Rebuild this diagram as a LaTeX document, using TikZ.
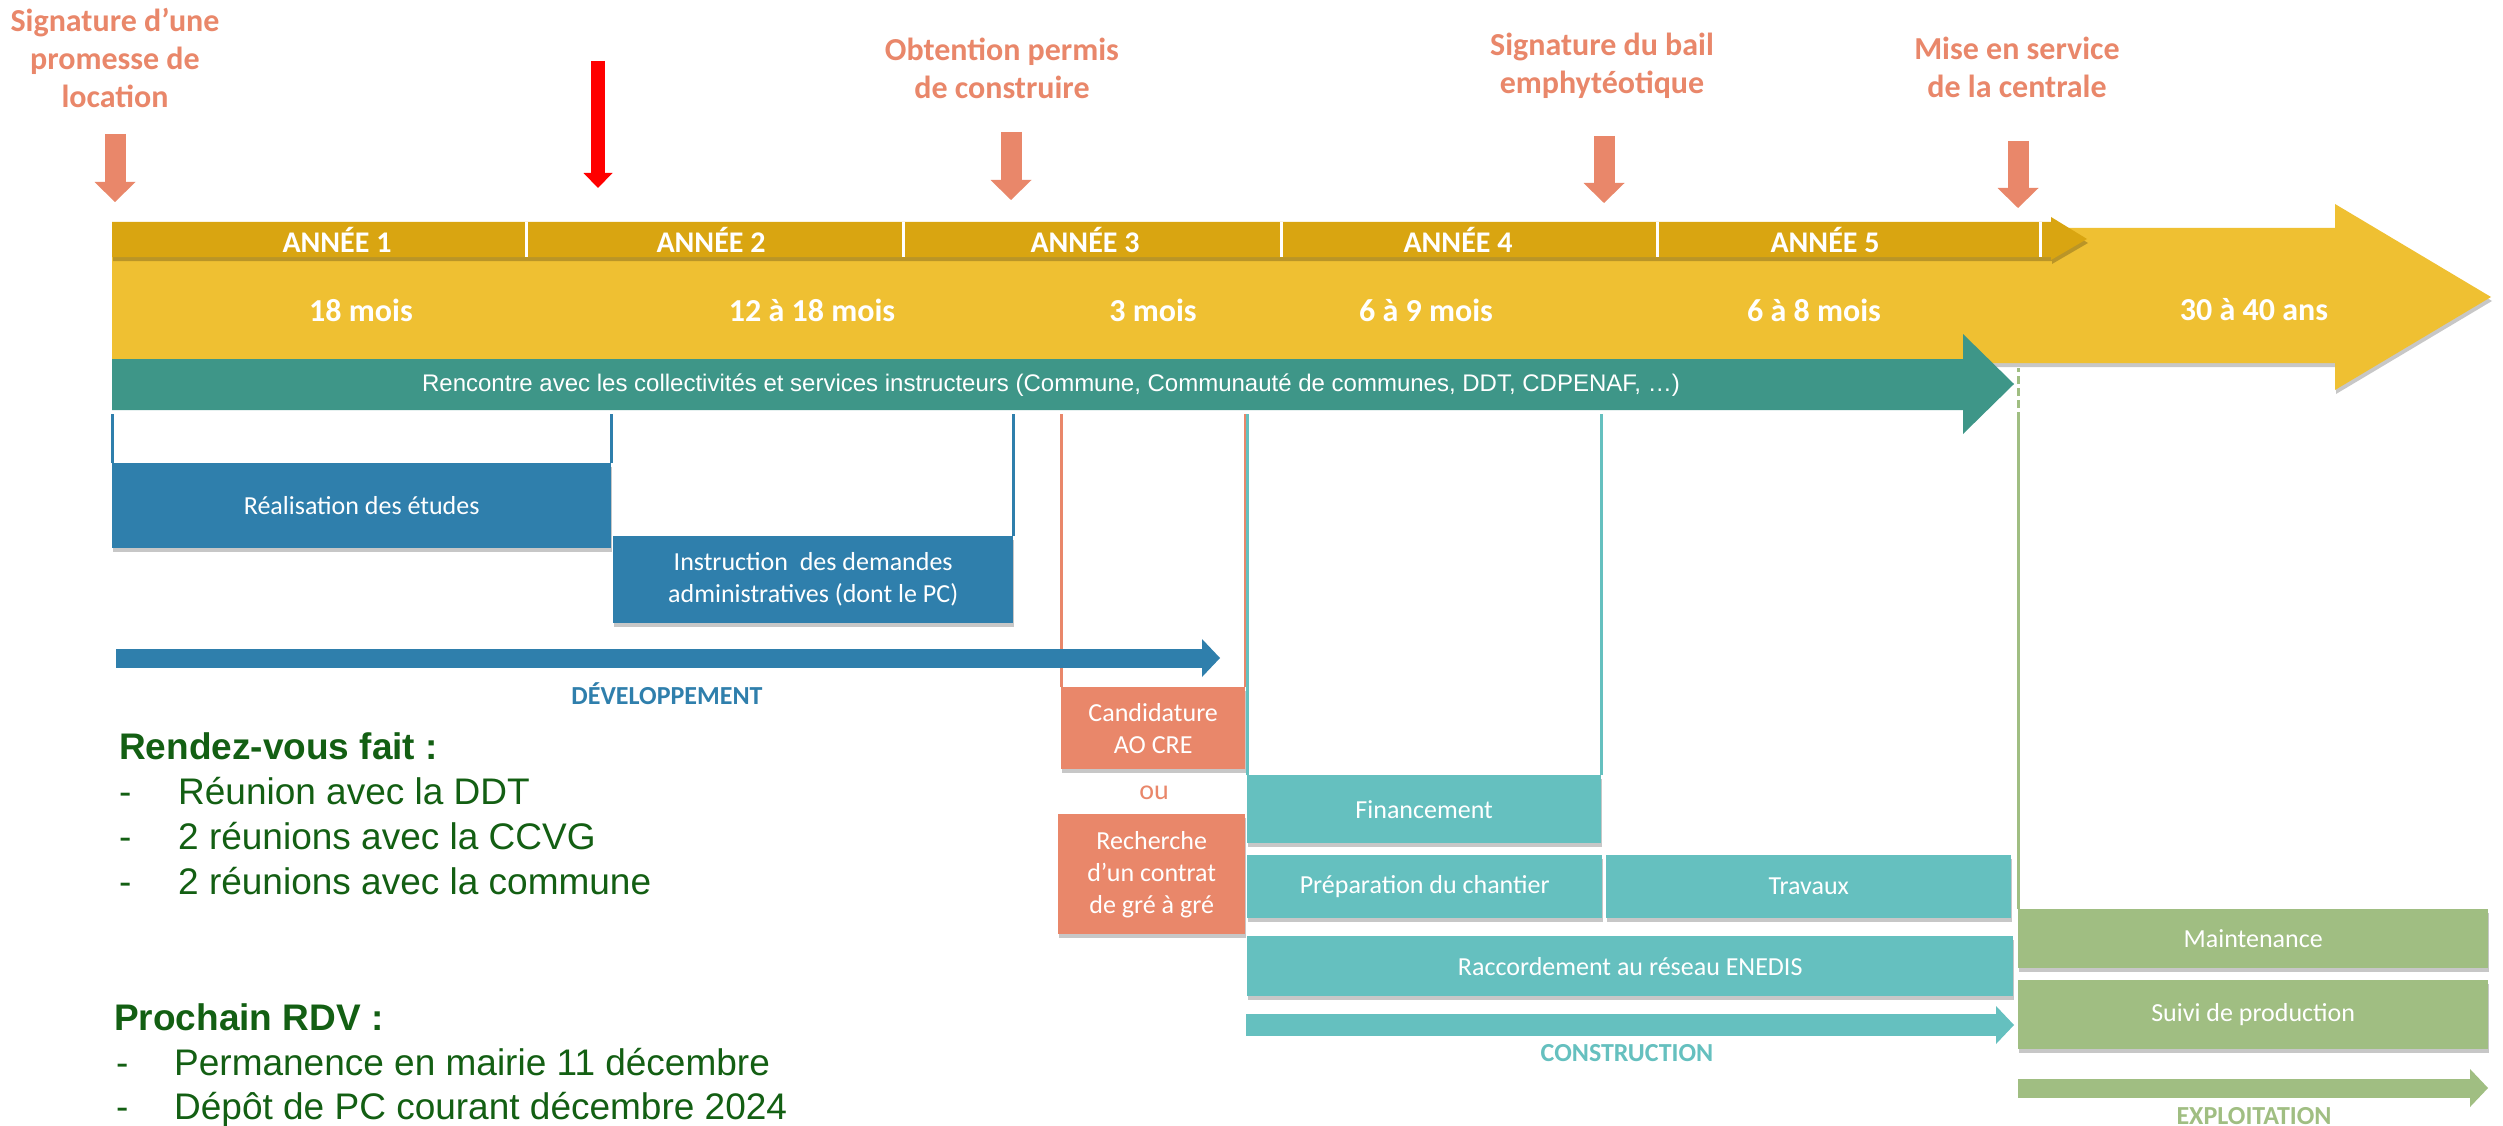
\documentclass[tikz,border=0pt]{standalone}
\usepackage{fontspec}
\setmainfont{Carlito}
\newfontfamily\arialfam{Liberation Sans}
\usepackage{tikz}
\usetikzlibrary{arrows.meta,shadows}

\definecolor{saumon}{HTML}{E9876A}
\definecolor{ocre}{HTML}{D9A511}
\definecolor{jaune}{HTML}{EFC032}
\definecolor{sarcelle}{HTML}{3E9688}
\definecolor{bleu}{HTML}{2F7FAC}
\definecolor{turquoise}{HTML}{65C0BF}
\definecolor{vert}{HTML}{A0BE82}
\definecolor{vertfonce}{HTML}{135F13}

\tikzset{
  ombre/.style={drop shadow={shadow xshift=1pt,shadow yshift=-4pt,opacity=.22,fill=black}},
  boite/.style={fill=#1,text=white,inner sep=0pt,anchor=north west,align=center,
    font=\fontsize{26}{32}\selectfont,ombre},
  titre/.style={saumon,align=center,font=\bfseries\fontsize{32}{38}\selectfont},
  jalon/.style={saumon,line width=21pt,-{Triangle[length=20pt,width=41pt,line width=0pt]}},
  phase/.style={#1,line width=19pt,-{Triangle[length=18pt,width=38pt,line width=0pt]}},
  etiquette/.style={#1,font=\bfseries\fontsize{26}{31}\selectfont},
  trait/.style={#1,line width=3pt},
  liste/.style={vertfonce,anchor=base west,inner sep=0pt,font=\arialfam\fontsize{37}{44}\selectfont},
  gras/.style={font=\arialfam\bfseries\fontsize{37}{44}\selectfont}
}

\begin{document}
\begin{tikzpicture}[x=1pt,y=-1pt]
    \path[use as bounding box,fill=white] (0,0) rectangle (2503,1126);

    % frise
    \fill[jaune,ombre] (112,228) -- (2335,228) -- (2335,204) -- (2491,297)
      -- (2335,390) -- (2335,363) -- (112,363) -- cycle;
    \fill[ocre,ombre] (112,222) -- (2051,222) -- (2051,217) -- (2087,239)
      -- (2051,260) -- (2051,257) -- (112,257) -- cycle;
    \foreach \x in {526,903,1281,1657,2040}
    {
      \draw[white,line width=3pt] (\x,222) -- (\x,257);
    }
    \foreach \x/\n in {337/1,711/2,1085/3,1458/4,1825/5}
    {
      \node[white,font=\bfseries\fontsize{30}{36}\selectfont] (annee\n) at (\x,240) {ANNÉE \n};
    }
    \foreach \x/\t [count=\i] in {361/18 mois,812/12 à 18 mois,1153/3 mois,1426/6 à 9 mois,1814/6 à 8 mois,2254/30 à 40 ans}
    {
      \node[white,font=\bfseries\fontsize{32}{38}\selectfont] (duree\i) at (\x,310) {\t};
    }
    \fill[sarcelle] (112,359) -- (1963,359) -- (1963,334) -- (2014,384)
      -- (1963,434) -- (1963,410) -- (112,410) -- cycle;
    \node[white,font=\arialfam\fontsize{24}{28}\selectfont] (rencontre) at (1051,385)
      {Rencontre avec les collectivités et services instructeurs (Commune, Communauté de communes, DDT, CDPENAF, …)};

    % jalons
    \node[titre] (promesse) at (115,58) {Signature d’une\\promesse de\\location};
    \node[titre] (permis) at (1002,68) {Obtention permis\\de construire};
    \node[titre] (bail) at (1602,66) {Signature du bail\\emphytéotique};
    \node[titre] (service) at (2017,67) {Mise en service\\de la centrale};
    \coordinate (p1) at (115,134);  \coordinate (q1) at (115,202);
    \coordinate (p2) at (598,61);   \coordinate (q2) at (598,188);
    \coordinate (p3) at (1011,132); \coordinate (q3) at (1011,200);
    \coordinate (p4) at (1604,136); \coordinate (q4) at (1604,203);
    \coordinate (p5) at (2018,141); \coordinate (q5) at (2018,208);
    \draw[jalon] (p1) -- (q1);
    \draw[red,line width=14pt,-{Triangle[length=15pt,width=29pt,line width=0pt]}] (p2) -- (q2);
    \draw[jalon] (p3) -- (q3);
    \draw[jalon] (p4) -- (q4);
    \draw[jalon] (p5) -- (q5);

    % etapes
    \node[boite=bleu,minimum width=499pt,minimum height=85pt] (etudes) at (112,463) {Réalisation des études};
    \node[boite=bleu,minimum width=400pt,minimum height=87pt] (instruction) at (613,536)
      {Instruction\ \ des demandes\\administratives (dont le PC)};
    \node[boite=saumon,minimum width=184pt,minimum height=82pt] (candidature) at (1061,687) {Candidature\\AO CRE};
    \node[saumon,font=\fontsize{28}{34}\selectfont] (ou) at (1154,793) {ou};
    \node[boite=saumon,minimum width=187pt,minimum height=120pt] (recherche) at (1058,814)
      {Recherche\\d’un contrat\\de gré à gré};
    \node[boite=turquoise,minimum width=354pt,minimum height=68pt] (financement) at (1247,775) {Financement};
    \node[boite=turquoise,minimum width=355pt,minimum height=63pt] (preparation) at (1247,855) {Préparation du chantier};
    \node[boite=turquoise,minimum width=405pt,minimum height=63pt] (travaux) at (1606,855) {Travaux};
    \node[boite=turquoise,minimum width=766pt,minimum height=60pt] (raccordement) at (1247,936) {Raccordement au réseau ENEDIS};
    \node[boite=vert,minimum width=470pt,minimum height=59pt] (maintenance) at (2018,909) {Maintenance};
    \node[boite=vert,minimum width=470pt,minimum height=69pt] (suivi) at (2018,980) {Suivi de production};

    \coordinate (haut) at (0,414);
    \coordinate (pointe) at (0,368);
    \coordinate (tirets) at (0,420);
    \draw[trait=bleu] (etudes.north west) -- (etudes.north west |- haut);
    \draw[trait=bleu] (etudes.north east) -- (etudes.north east |- haut);
    \draw[trait=bleu] (instruction.north east) -- (instruction.north east |- haut);
    \draw[trait=saumon] (candidature.north west) -- (candidature.north west |- haut);
    \draw[trait=saumon] (candidature.north east) -- (candidature.north east |- haut);
    \draw[trait=turquoise] (financement.north west) -- (financement.north west |- haut);
    \draw[trait=turquoise] (financement.north east) -- (financement.north east |- haut);
    \draw[trait=vert] (maintenance.north west) -- (maintenance.north west |- tirets);
    \draw[trait=vert,dash pattern=on 8pt off 4pt] (maintenance.north west |- tirets) -- (maintenance.north west |- pointe);

    % phases
    \coordinate (d0) at (116,658);  \coordinate (d1) at (1220,658);
    \coordinate (c0) at (1246,1025); \coordinate (c1) at (2014,1025);
    \coordinate (e0) at (2018,1088); \coordinate (e1) at (2488,1088);
    \draw[phase=bleu] (d0) -- (d1);
    \draw[phase=turquoise,line width=22pt] (c0) -- (c1);
    \draw[phase=vert] (e0) -- (e1);
    \node[etiquette=bleu] (developpement) at (667,694) {DÉVELOPPEMENT};
    \node[etiquette=turquoise] (construction) at (1627,1053) {CONSTRUCTION};
    \node[etiquette=vert] (exploitation) at (2254,1116) {EXPLOITATION};

    % rendez-vous
    \node[liste,gras] (fait) at (119,759) {Rendez-vous fait :};
    \foreach \y/\t [count=\i] in {804/Réunion avec la DDT,849/2 réunions avec la CCVG,894/2 réunions avec la commune}
    {
      \node[liste] (tiretfait\i) at (119,\y) {-};
      \node[liste] (fait\i) at (178,\y) {\t};
    }
    \node[liste,gras] (prochain) at (114,1030) {Prochain RDV :};
    \foreach \y/\t [count=\i] in {1075/Permanence en mairie 11 décembre,1119/Dépôt de PC courant décembre 2024}
    {
      \node[liste] (tiretprochain\i) at (116,\y) {-};
      \node[liste] (prochain\i) at (174,\y) {\t};
    }
\end{tikzpicture}
\end{document}
